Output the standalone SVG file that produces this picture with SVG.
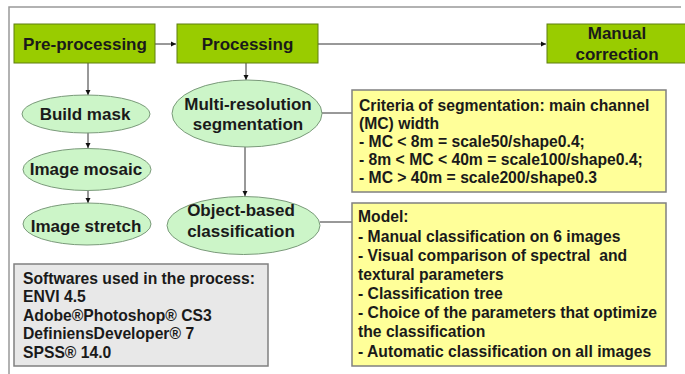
<svg xmlns="http://www.w3.org/2000/svg" width="685" height="374" viewBox="0 0 685 374">
<defs>
<marker id="ah" markerWidth="6" markerHeight="6" refX="5" refY="3" orient="auto" markerUnits="userSpaceOnUse">
<path d="M0,0.5 L5,3 L0,5.5 Z" fill="#111"/>
</marker>
<style>
.box{fill:#99CC00;stroke:#5f7f10;stroke-width:1}
.ell{fill:#ccf5c8;stroke:#7a9a7a;stroke-width:1}
.note{fill:#FFFF99;stroke:#808080;stroke-width:1.5}
.soft{fill:#e8e8e8;stroke:#808080;stroke-width:1.5}
.lbl{font-family:"Liberation Sans",Arial,sans-serif;font-weight:bold;font-size:17px;fill:#1a1a1a;text-anchor:middle}
.txt{font-family:"Liberation Sans",Arial,sans-serif;font-weight:bold;font-size:15.7px;fill:#1a1a1a;white-space:pre}
.con{stroke:#333;stroke-width:1;fill:none}
</style>
</defs>
<rect width="685" height="374" fill="#fff"/>
<path d="M9,374 V7 H681" stroke="#999" stroke-width="1.5" fill="none"/>
<g id="connectors">
<line class="con" x1="155" y1="44" x2="176" y2="44" marker-end="url(#ah)"/>
<line class="con" x1="318" y1="44" x2="546" y2="44" marker-end="url(#ah)"/>
<line class="con" x1="88" y1="63" x2="88" y2="95" marker-end="url(#ah)"/>
<line class="con" x1="88" y1="132" x2="88" y2="148" marker-end="url(#ah)"/>
<line class="con" x1="88" y1="190" x2="88" y2="203" marker-end="url(#ah)"/>
<line class="con" x1="246" y1="63" x2="246" y2="80" marker-end="url(#ah)"/>
<line class="con" x1="245" y1="147" x2="245" y2="196" marker-end="url(#ah)"/>
<line class="con" x1="322" y1="113" x2="352" y2="113"/>
<line class="con" x1="320" y1="222" x2="352" y2="222"/>
</g>
<g id="preprocessing">
<rect class="box" x="14" y="24" width="141" height="39"/>
<text class="lbl" x="85" y="50">Pre-processing</text>
</g>
<g id="processing">
<rect class="box" x="177" y="24" width="141" height="39"/>
<text class="lbl" x="247.5" y="50">Processing</text>
</g>
<g id="manual-correction">
<rect class="box" x="547" y="24" width="139" height="39"/>
<text class="lbl" x="617" y="39">Manual</text>
<text class="lbl" x="617" y="60">correction</text>
</g>
<g id="build-mask">
<ellipse class="ell" cx="86" cy="114" rx="64" ry="19"/>
<text class="lbl" x="85" y="120">Build mask</text>
</g>
<g id="image-mosaic">
<ellipse class="ell" cx="87" cy="169.5" rx="64" ry="21"/>
<text class="lbl" x="86" y="175">Image mosaic</text>
</g>
<g id="image-stretch">
<ellipse class="ell" cx="87" cy="224" rx="64" ry="21"/>
<text class="lbl" x="86" y="232">Image stretch</text>
</g>
<g id="multi-resolution">
<ellipse class="ell" cx="247" cy="113.5" rx="75" ry="33.5"/>
<text class="lbl" x="248" y="110">Multi-resolution</text>
<text class="lbl" x="248" y="130">segmentation</text>
</g>
<g id="object-based">
<ellipse class="ell" cx="243.5" cy="225.5" rx="76.5" ry="29"/>
<text class="lbl" x="241" y="216">Object-based</text>
<text class="lbl" x="241" y="237">classification</text>
</g>
<g id="criteria">
<rect class="note" x="352" y="90" width="314" height="102"/>
<text class="txt" x="359" y="111">Criteria of segmentation: main channel</text>
<text class="txt" x="359" y="129">(MC) width</text>
<text class="txt" x="359" y="147">- MC &lt; 8m = scale50/shape0.4;</text>
<text class="txt" x="359" y="165">- 8m &lt; MC &lt; 40m = scale100/shape0.4;</text>
<text class="txt" x="359" y="183">- MC &gt; 40m = scale200/shape0.3</text>
</g>
<g id="model">
<rect class="note" x="352" y="203" width="314" height="163"/>
<text class="txt" x="358" y="222">Model:</text>
<text class="txt" x="358" y="242">- Manual classification on 6 images</text>
<text class="txt" x="358" y="261" xml:space="preserve">- Visual comparison of spectral  and</text>
<text class="txt" x="358" y="280">textural parameters</text>
<text class="txt" x="358" y="299">- Classification tree</text>
<text class="txt" x="358" y="318">- Choice of the parameters that optimize</text>
<text class="txt" x="358" y="337">the classification</text>
<text class="txt" x="358" y="357">- Automatic classification on all images</text>
</g>
<g id="softwares">
<rect class="soft" x="14" y="264" width="254" height="102"/>
<text class="txt" x="23" y="284">Softwares used in the process:</text>
<text class="txt" x="23" y="302">ENVI 4.5</text>
<text class="txt" x="23" y="321">Adobe®Photoshop® CS3</text>
<text class="txt" x="23" y="339">DefiniensDeveloper® 7</text>
<text class="txt" x="23" y="358">SPSS® 14.0</text>
</g>
</svg>
